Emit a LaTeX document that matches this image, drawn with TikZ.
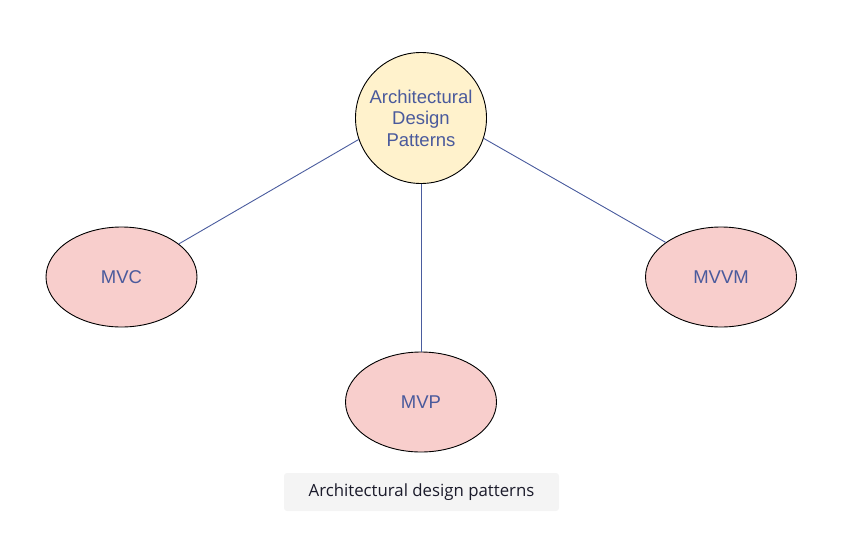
\documentclass[tikz,border=0pt]{standalone}
\usepackage{fontspec}
\setmainfont{Liberation Sans}
\newfontfamily\capfont{Open Sans}
\usetikzlibrary{shapes.geometric}
\definecolor{txtblue}{HTML}{4A5A9C}
\definecolor{lineblue}{HTML}{4A5C9E}
\definecolor{yfill}{HTML}{FFF2CC}
\definecolor{rfill}{HTML}{F8CECC}
\definecolor{capfill}{HTML}{F4F4F4}
\definecolor{captxt}{HTML}{1A1A2A}
\tikzset{
  topic/.style={circle, draw=black, line width=0.9pt, fill=yfill, minimum size=131pt, inner sep=0pt,
    align=center, text=txtblue, font=\fontsize{18.5}{21.5}\selectfont},
  leaf/.style={ellipse, draw=black, line width=0.9pt, fill=rfill, minimum width=151pt, minimum height=100pt,
    inner sep=0pt, text=txtblue, font=\fontsize{18.5}{21.5}\selectfont},
  link/.style={draw=lineblue, line width=0.9pt},
  capbox/.style={fill=capfill, rounded corners=3pt, minimum width=275pt, minimum height=38pt, inner sep=0pt,
    text=captxt, font=\capfont\fontsize{16.8}{19}\selectfont}
}
\begin{document}
\begin{tikzpicture}[x=1pt,y=-1pt]
\useasboundingbox (0,0) rectangle (842,535);
\node[topic] (adp) at (421,118) {Architectural\\Design\\Patterns};
\node[leaf] (mvc) at (121.5,277) {MVC};
\node[leaf] (mvp) at (421,402) {MVP};
\node[leaf] (mvvm) at (721,277) {MVVM};
\draw[link] (adp.199.8) -- (mvc.30.8);
\draw[link] (adp.south) -- (mvp.north);
\draw[link] (adp.-18.7) -- (mvvm.148.5);
\node[capbox] (cap) at (421.5,492) {Architectural design patterns};
\end{tikzpicture}
\end{document}
